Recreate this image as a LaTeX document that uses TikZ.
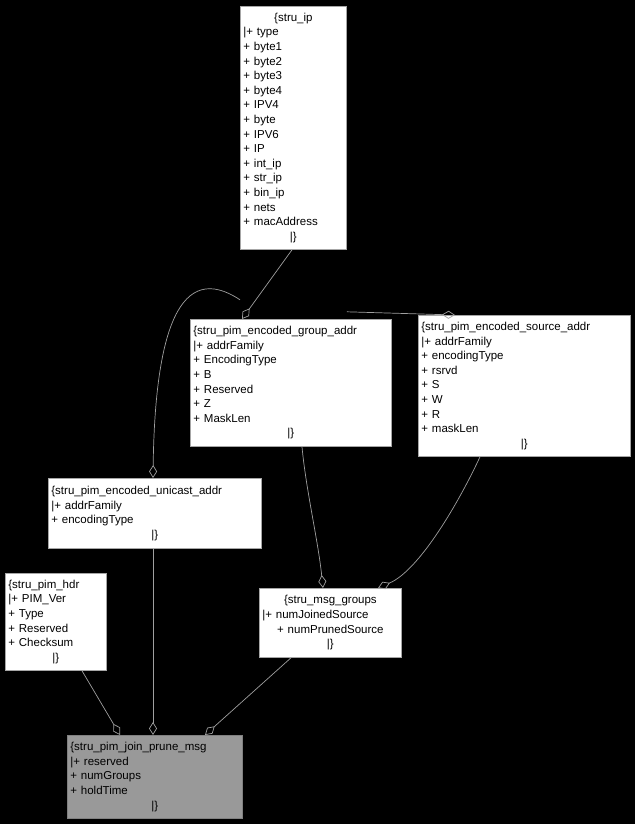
\documentclass[tikz,border=0pt]{standalone}
\usepackage{fontspec}
\setmainfont{Liberation Sans}
\usetikzlibrary{arrows.meta}
\begin{document}
\begin{tikzpicture}[x=1pt,y=-1pt,
  cls/.style={draw=gray!70!white,fill=white,line width=0.8pt,rectangle,anchor=north west,inner xsep=3pt,inner ysep=2pt,align=left,font=\fontsize{11.5}{14.6}\selectfont,minimum height=#1},
  rel/.style={draw=gray!75!white,line width=0.7pt,{Diamond[open,length=13pt,width=8pt]}-}]
\fill[black] (0,0) rectangle (635,824);
\useasboundingbox (0,0) rectangle (635,824);
\newcommand{\cl}[1]{\makebox[\linewidth]{#1}\\}
\node[cls=243pt,text width=100pt] (ip) at (240,6) {\cl{\{stru\_ip}|+ type\\+ byte1\\+ byte2\\+ byte3\\+ byte4\\+ IPV4\\+ byte\\+ IPV6\\+ IP\\+ int\_ip\\+ str\_ip\\+ bin\_ip\\+ nets\\+ macAddress\\\makebox[\linewidth]{|\}}};
\node[cls=127pt,text width=195pt] (grp) at (190,319) {\{stru\_pim\_encoded\_group\_addr\\|+ addrFamily\\+ EncodingType\\+ B\\+ Reserved\\+ Z\\+ MaskLen\\\makebox[\linewidth]{|\}}};
\node[cls=141pt,text width=206pt] (src) at (418,315) {\{stru\_pim\_encoded\_source\_addr\\|+ addrFamily\\+ encodingType\\+ rsrvd\\+ S\\+ W\\+ R\\+ maskLen\\\makebox[\linewidth]{|\}}};
\node[cls=70pt,text width=207pt] (uni) at (48,478) {\{stru\_pim\_encoded\_unicast\_addr\\|+ addrFamily\\+ encodingType\\\makebox[\linewidth]{|\}}};
\node[cls=97pt,text width=95pt] (hdr) at (5,573) {\{stru\_pim\_hdr\\|+ PIM\_Ver\\+ Type\\+ Reserved\\+ Checksum\\\makebox[\linewidth]{|\}}};
\node[cls=69pt,text width=136pt] (grps) at (259,588) {\cl{\{stru\_msg\_groups}|+ numJoinedSource\\\cl{+ numPrunedSource}\makebox[\linewidth]{|\}}};
\node[cls=83pt,text width=169pt,fill=gray!80!white,draw=gray] (jp) at (67,735) {\{stru\_pim\_join\_prune\_msg\\|+ reserved\\+ numGroups\\+ holdTime\\\makebox[\linewidth]{|\}}};
\draw[rel] ([xshift=105pt]uni.north west) .. controls (155,330) and (180,260) .. ([yshift=-50pt]ip.south west);
\draw[rel] ([xshift=52pt]grp.north west) -- ([xshift=52pt]ip.south west);
\draw[rel] ([xshift=37pt]src.north west) -- ([yshift=-62pt]ip.south east);
\draw[rel] ([xshift=64pt]grps.north west) .. controls (318,540) and (306,490) .. ([xshift=112pt]grp.south west);
\draw[rel] ([xshift=119pt]grps.north west) .. controls (420,570) and (460,500) .. ([xshift=62pt]src.south west);
\draw[rel] ([xshift=86pt]jp.north west) -- ([xshift=105pt]uni.south west);
\draw[rel] ([xshift=53pt]jp.north west) -- ([xshift=77pt]hdr.south west);
\draw[rel] ([xshift=138pt]jp.north west) -- ([xshift=32pt]grps.south west);
\end{tikzpicture}
\end{document}
